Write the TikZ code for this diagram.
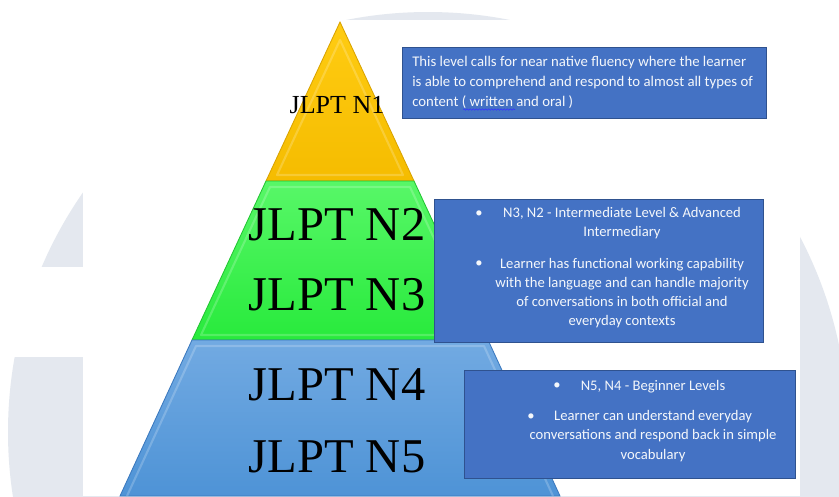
\documentclass[tikz,border=0pt]{standalone}
\usepackage{fontspec}
\setmainfont{Liberation Serif}
\newfontfamily\boxfont{Carlito}
\usetikzlibrary{decorations.pathmorphing}

\definecolor{wmgray}{HTML}{E4E8EF}
\definecolor{boxblue}{HTML}{4472C4}
\definecolor{boxedge}{HTML}{2F528F}
\definecolor{ytop}{HTML}{FFCC12}
\definecolor{ybot}{HTML}{F5BC00}
\definecolor{yedge}{HTML}{D9A300}
\definecolor{gtop}{HTML}{58F768}
\definecolor{gbot}{HTML}{28EA3C}
\definecolor{gedge}{HTML}{22C532}
\definecolor{btop}{HTML}{72AAE2}
\definecolor{bbot}{HTML}{4E93D6}
\definecolor{bedge}{HTML}{3A78BE}

\tikzset{
  level/.style={font=\fontsize{34.5}{40}\selectfont, inner sep=0pt},
  infobox/.style={fill=boxblue, draw=boxedge, line width=0.7pt},
  infotext/.style={text=white!94!boxblue, font=\boxfont\fontsize{10.4}{13.7}\selectfont, align=center, inner sep=0pt},
  bevel/.style={draw=white, draw opacity=0.2, line width=1.5pt, line join=round}
}

\begin{document}
\begin{tikzpicture}[x=0.025cm,y=-0.025cm]
\useasboundingbox (0,0) rectangle (839,496);
% faint logo behind the slide
\fill[white] (0,0) rectangle (839,496);
\fill[wmgray] (428,432) circle (420);
\fill[white] (0,267) rectangle (83,357);
\fill[white] (83,20) rectangle (800,496);

% pyramid, top to bottom
\shade[top color=ytop, bottom color=ybot, draw=yedge, line width=0.6pt] (340,22) -- (414,181) -- (266,181) -- cycle;
\shade[top color=gtop, bottom color=gbot, draw=gedge, line width=0.6pt] (266,181) -- (414,181) -- (488,340) -- (192,340) -- cycle;
\shade[top color=btop, bottom color=bbot, draw=bedge, line width=0.6pt] (192,340) -- (488,340) -- (560,496) -- (120,496) -- cycle;
\draw[bevel] (340,40) -- (403,175) -- (277,175) -- cycle;
\draw[bevel] (270,187) -- (410,187) -- (479,335) -- (201,335) -- cycle;
\draw[bevel] (127,496) -- (196,346) -- (484,346) -- (553,496);

\node[level, anchor=base, font=\fontsize{18.5}{22}\selectfont] (n1) at (337,113) {JLPT N1};
\node[level, anchor=base] (n2) at (337,240) {JLPT N2};
\node[level, anchor=base] (n3) at (337,310) {JLPT N3};
\node[level, anchor=base] (n4) at (337,400) {JLPT N4};
\node[level, anchor=base] (n5) at (337,472) {JLPT N5};

% N1 box
\filldraw[infobox] (402,47) rectangle (766,118);
\node[infotext, align=left, font=\boxfont\fontsize{10.5}{14.2}\selectfont, anchor=west] (advtext) at (412,82)
  {This level calls for near native fluency where the learner\\
   is able to comprehend and respond to almost all types of\\
   content ( written and oral )};
\draw[blue!80!white, line width=0.4pt, decorate, decoration={snake, amplitude=0.5pt, segment length=2.2pt}] (463,109.5) -- (515,109.5);

% N2/N3 box
\filldraw[infobox] (434,199) rectangle (763,342);
\node[infotext] (midbulleta) at (479,214) {•};
\node[infotext] (midhead) at (622,223) {N3, N2 - Intermediate Level \& Advanced\\Intermediary};
\node[infotext] (midbulletb) at (479,264) {•};
\node[infotext] (midtext) at (622,293)
  {Learner has functional working capability\\
   with the language and can handle majority\\
   of conversations in both official and\\
   everyday contexts};

% N4/N5 box
\filldraw[infobox] (464,370) rectangle (795,478);
\node[infotext] (begbulleta) at (557,386) {•};
\node[infotext, anchor=base] (beghead) at (653,390) {N5, N4 - Beginner Levels};
\node[infotext] (begbulletb) at (531,417) {•};
\node[infotext] (begtext) at (653,436)
  {Learner can understand everyday\\
   conversations and respond back in simple\\
   vocabulary};
\end{tikzpicture}
\end{document}
